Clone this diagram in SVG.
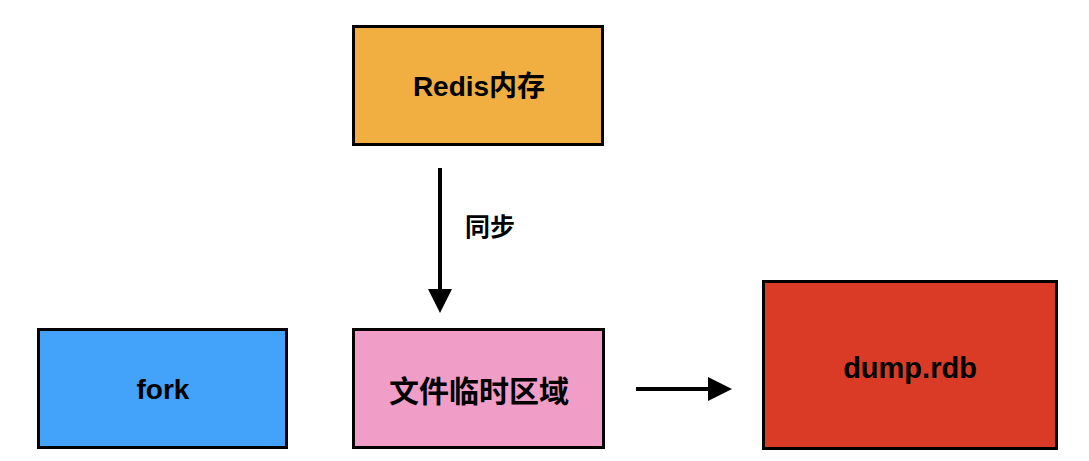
<svg xmlns="http://www.w3.org/2000/svg" width="1089" height="461" viewBox="0 0 1089 461">
<defs>
<style>
.box{stroke:#000;stroke-width:3}
.lbl{font-family:"Liberation Sans","Noto Sans CJK SC",sans-serif;font-weight:bold;fill:#000;text-anchor:middle}
.edge{stroke:#000;stroke-width:4;fill:none}
</style>
<marker id="ah" viewBox="0 0 24 24" refX="0" refY="12" markerWidth="24" markerHeight="24" markerUnits="userSpaceOnUse" orient="auto">
<path d="M0,0 L24,12 L0,24 Z" fill="#000"/>
</marker>
</defs>
<rect width="1089" height="461" fill="#fff"/>
<g id="redis">
<rect class="box" x="353.5" y="26.5" width="249" height="118" fill="#F2AF41"/>
<text class="lbl" x="479" y="96" font-size="28">Redis内存</text>
</g>
<g id="temp">
<rect class="box" x="353.5" y="329.5" width="250" height="118" fill="#F09EC8"/>
<text class="lbl" x="479" y="402" font-size="30">文件临时区域</text>
</g>
<g id="fork">
<rect class="box" x="38.5" y="329.5" width="248" height="118" fill="#43A2F9"/>
<text class="lbl" x="163" y="399" font-size="28">fork</text>
</g>
<g id="dump">
<rect class="box" x="763.5" y="281.5" width="293" height="167" fill="#DA3B27"/>
<text class="lbl" x="910" y="378" font-size="29">dump.rdb</text>
</g>
<g id="connectors">
<line class="edge" x1="440" y1="168" x2="440" y2="289" marker-end="url(#ah)"/>
<text class="lbl" x="490" y="236" font-size="25">同步</text>
<line class="edge" x1="636" y1="389" x2="708" y2="389" marker-end="url(#ah)"/>
</g>
</svg>
